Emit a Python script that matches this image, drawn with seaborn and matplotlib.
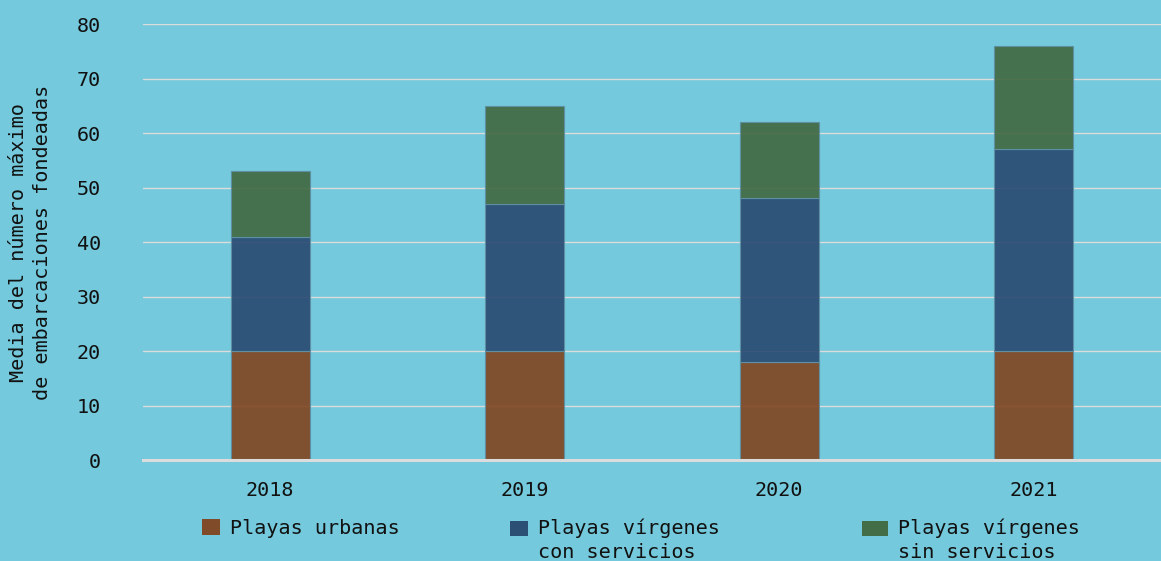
import numpy as np
import pandas as pd
import matplotlib
matplotlib.use("Agg")
import matplotlib.pyplot as plt
from matplotlib.patches import Patch, Rectangle
from matplotlib.legend_handler import HandlerPatch
import seaborn as sns

years = [2018, 2019, 2020, 2021]
urbanas = [20, 20, 18, 20]
virgenes_con = [21, 27, 30, 37]
virgenes_sin = [12, 18, 14, 19]
series_names = ["Playas urbanas", "Playas vírgenes\ncon servicios", "Playas vírgenes\nsin servicios"]
colors = ["#81441e", "#28486f", "#41683f"]
y_ticks = [0, 10, 20, 30, 40, 50, 60, 70, 80]

bg = "#74c9dc"
grid_c = "#dcdcdc"
txt_c = "#111111"

sns.set_theme(style="white")
plt.rcParams["font.family"] = ["DejaVu Sans Mono"]

df = pd.DataFrame({
    "year": years * 3,
    "value": urbanas + virgenes_con + virgenes_sin,
    "serie": sum([[n] * len(years) for n in series_names], []),
})

fig = plt.figure(figsize=(11.61, 5.61), dpi=100, facecolor=bg)
ax = fig.add_axes([0.123, 0.18, 0.877, 0.777])
ax.set_facecolor(bg)

# histplot stacks later hue levels underneath, so feed the order reversed
sns.histplot(
    data=df, x="year", weights="value", hue="serie", hue_order=series_names[::-1],
    multiple="stack", discrete=True, shrink=0.31, palette=colors[::-1],
    alpha=0.9, edgecolor="#5f8fa3", linewidth=0.8, legend=False, ax=ax,
)

ax.set_xlim(years[0] - 0.5, years[-1] + 0.5)
ax.set_ylim(0, 80)
ax.set_yticks(y_ticks)
ax.set_xticks(years)
ax.set_xticklabels([str(y) for y in years])
ax.set_axisbelow(True)
ax.yaxis.grid(True, color=grid_c, linewidth=1.0)
ax.xaxis.grid(False)
for s in ["top", "right", "left"]:
    ax.spines[s].set_visible(False)
ax.spines["bottom"].set_color(grid_c)
ax.spines["bottom"].set_linewidth(2.2)
ax.tick_params(axis="x", length=0, pad=15, labelsize=14.5, colors=txt_c)
ax.tick_params(axis="y", length=0, pad=30, labelsize=14.5, colors=txt_c)
ax.set_xlabel("")
ax.set_ylabel("Media del número máximo\nde embarcaciones fondeadas", fontsize=14.5,
              color=txt_c, labelpad=18, linespacing=1.3)


def top_square(legend, orig_handle, xdescent, ydescent, width, height, fontsize):
    # keep the swatch level with the first line of a two-line label
    return Rectangle((-xdescent, -ydescent + 0.62 * fontsize), width, height)


legend_x = [202, 510, 862]
legend_hl = [0.9, 0.9, 1.3]
for name, col, lx, hl in zip(series_names, colors, legend_x, legend_hl):
    hmap = {Patch: HandlerPatch(patch_func=top_square)} if "\n" in name else None
    leg = fig.legend(
        handles=[Patch(facecolor=col, edgecolor="none", alpha=0.95)], labels=[name],
        loc="upper left", bbox_to_anchor=(lx / 1161, 1 - 519 / 561),
        frameon=False, fontsize=14.5, handlelength=hl, handleheight=0.8,
        handletextpad=0.5, borderpad=0, borderaxespad=0, labelspacing=0,
        labelcolor=txt_c, handler_map=hmap,
    )
    for t in leg.get_texts():
        t.set_linespacing(1.3)

fig.savefig("out.png", dpi=100, facecolor=bg)
